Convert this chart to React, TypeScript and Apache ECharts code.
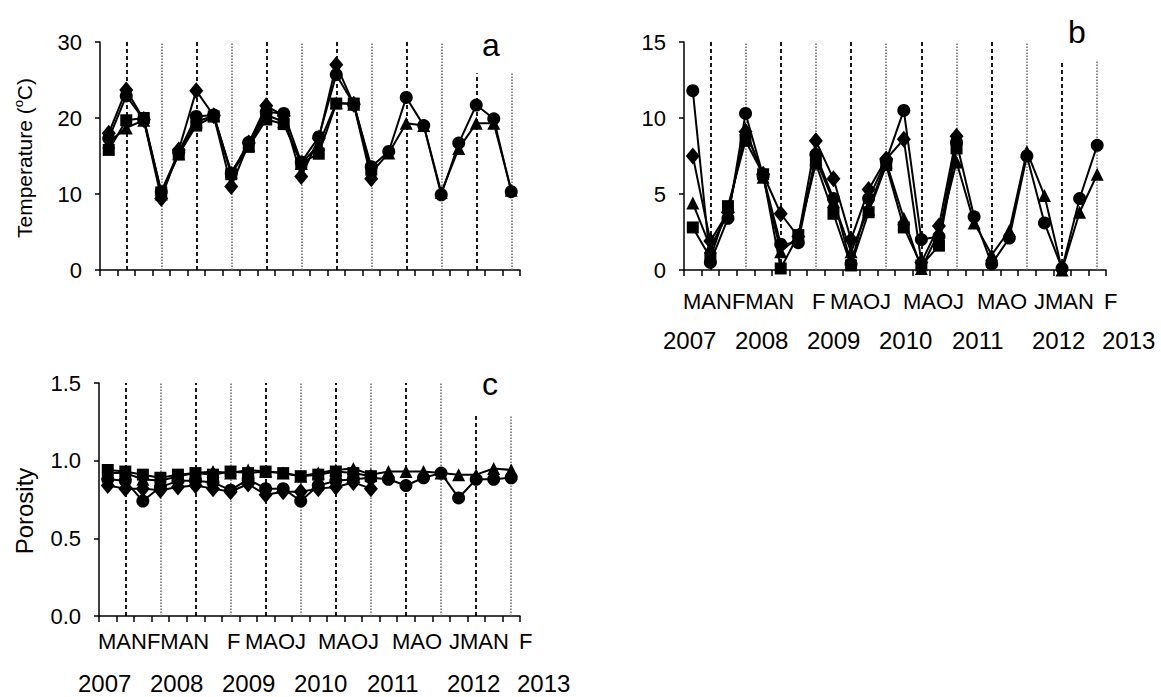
import React, { useEffect, useRef } from 'react';
import * as echarts from 'echarts';

// ---------------- data ----------------
const monthLabels = ['M', 'A', 'N', 'F', 'M', 'A', 'N', 'F', 'M', 'A', 'O', 'J', 'M', 'A', 'O', 'J', 'M', 'A', 'O', 'J', 'M', 'A', 'N', 'F'];
const yearLabels = ['2007', '2008', '2009', '2010', '2011', '2012', '2013'];
const categories = monthLabels.map((m, i) => `${m}${i + 1}`);

// summer (dashed) and winter (dotted) sampling indices
const summerIdx = [1, 5, 9, 13, 17, 21];
const winterIdx = [3, 7, 11, 15, 19, 23];

// a: temperature (°C)
const tempDiamond = [18.0, 23.7, 19.8, 9.4, 15.8, 23.6, 20.3, 11.0, 16.7, 21.6, 20.3, 12.3, 17.3, 27.0, 21.8, 12.0];
const tempSquare = [15.8, 19.7, 20.0, 10.2, 15.2, 19.0, 20.2, 12.6, 16.2, 19.8, 19.2, 14.1, 15.3, 21.9, 21.9, 13.2];
const tempTriangle = [16.8, 18.7, 19.7, 10.0, 15.3, 19.5, 20.3, 12.9, 16.4, 20.4, 19.5, 14.0, 16.5, 22.0, 21.8, 12.8, 15.4, 19.3, 19.0, 10.2, 16.0, 19.3, 19.3, 10.5];
const tempCircle = [17.3, 22.9, 19.8, 10.3, 15.5, 20.2, 20.4, 12.7, 16.8, 20.8, 20.6, 14.2, 17.5, 25.7, 21.8, 13.6, 15.6, 22.7, 19.0, 9.9, 16.7, 21.7, 19.9, 10.3];

// b
const bDiamond = [7.5, 1.9, 3.8, 9.1, 6.3, 3.7, 2.2, 8.5, 6.0, 2.0, 5.3, 7.3, 8.6, 0.5, 2.9, 8.8];
const bSquare = [2.8, 0.8, 4.2, 8.5, 6.3, 0.1, 2.3, 7.0, 3.7, 0.3, 3.8, 6.9, 2.8, 0.3, 1.6, 8.0];
const bTriangle = [4.4, 1.5, 3.7, 9.3, 6.1, 1.2, 2.2, 7.3, 4.5, 1.2, 4.0, 7.1, 3.4, 0.1, 2.5, 7.1, 3.1, 1.0, 2.6, 7.8, 4.9, 0.0, 3.8, 6.3];
const bCircle = [11.8, 0.5, 3.4, 10.3, 6.2, 1.7, 1.8, 7.6, 4.7, 0.4, 4.7, 7.2, 10.5, 2.0, 2.2, 8.4, 3.5, 0.4, 2.1, 7.5, 3.1, 0.1, 4.7, 8.2];

// c: porosity
const porDiamond = [0.84, 0.82, 0.82, 0.81, 0.83, 0.84, 0.82, 0.80, 0.85, 0.78, 0.80, 0.80, 0.82, 0.83, 0.86, 0.82];
const porSquare = [0.94, 0.93, 0.91, 0.89, 0.91, 0.92, 0.91, 0.93, 0.92, 0.93, 0.92, 0.90, 0.91, 0.93, 0.92, 0.90];
const porTriangle = [0.92, 0.92, 0.88, 0.87, 0.90, 0.92, 0.93, 0.92, 0.94, 0.93, 0.92, 0.90, 0.92, 0.94, 0.95, 0.91, 0.93, 0.93, 0.93, 0.92, 0.91, 0.91, 0.95, 0.94];
const porCircle = [0.88, 0.87, 0.74, 0.83, 0.87, 0.87, 0.86, 0.81, 0.88, 0.82, 0.82, 0.74, 0.84, 0.87, 0.88, 0.89, 0.88, 0.84, 0.89, 0.92, 0.76, 0.88, 0.88, 0.89];

// ---------------- layout ----------------
const FONT = 'Arial, "Liberation Sans", sans-serif';

const panels = [
  { name: 'a', grid: { left: 100, top: 42, width: 420, height: 228 }, max: 30, interval: 10, dec: 0, lastTop: 25.9,
    data: [tempSquare, tempDiamond, tempTriangle, tempCircle] },
  { name: 'b', grid: { left: 684, top: 42, width: 422, height: 228 }, max: 15, interval: 5, dec: 0, lastTop: 13.8,
    data: [bSquare, bDiamond, bTriangle, bCircle] },
  { name: 'c', grid: { left: 99, top: 383, width: 421, height: 233 }, max: 1.5, interval: 0.5, dec: 1, lastTop: 1.29,
    data: [porSquare, porDiamond, porTriangle, porCircle] },
];

const symbols: any[] = [
  { symbol: 'rect', size: 12 },
  { symbol: 'diamond', size: [14, 17] },
  { symbol: 'triangle', size: 13 },
  { symbol: 'circle', size: 13 },
];

// letter groups: [start, end, x offset from axis start]
const letterGroups = [[0, 7, -1], [7, 8, 128], [8, 12, 146], [12, 16, 219], [16, 19, 293], [19, 23, 350], [23, 24, 420]];
const yearOffsets = [-21, 51, 123, 195, 268, 348, 418];

const dashedStyle = { type: [4, 3], color: '#000', width: 1.8 };
const dottedStyle = { type: [1.5, 1.5], color: '#666', width: 1.5 };

function buildMarkLines(lastTop: number) {
  const items: any[] = [];
  const add = (idxs: number[], style: any) => {
    idxs.forEach((idx, k) => {
      if (k === idxs.length - 1) {
        items.push([{ coord: [idx, 0], lineStyle: style }, { coord: [idx, lastTop] }]);
      } else {
        items.push({ xAxis: idx, lineStyle: style });
      }
    });
  };
  add(summerIdx, dashedStyle);
  add(winterIdx, dottedStyle);
  return items;
}

export default function App() {
  const ref = useRef<HTMLDivElement>(null);
  useEffect(() => {
    document.body.style.margin = '0';
    if (!ref.current) return;
    const chart = echarts.init(ref.current, null, { renderer: 'svg' });

    const grid: any[] = [];
    const xAxis: any[] = [];
    const yAxis: any[] = [];
    const series: any[] = [];

    panels.forEach((p, k) => {
      grid.push({ ...p.grid, containLabel: false, outerBoundsMode: 'none' });
      xAxis.push({
        type: 'category', gridIndex: k, data: categories, boundaryGap: true,
        axisLine: { lineStyle: { color: '#000', width: 1.5 } },
        axisTick: { show: true, interval: 0, length: 6, lineStyle: { color: '#000', width: 1.5 } },
        axisLabel: { show: false }, splitLine: { show: false },
      });
      yAxis.push({
        type: 'value', gridIndex: k, min: 0, max: p.max, interval: p.interval,
        axisLine: { show: true, lineStyle: { color: '#000', width: 1.5 } },
        axisTick: { show: true, length: 5, lineStyle: { color: '#000', width: 1.5 } },
        axisLabel: { margin: 18, fontSize: 22, color: '#000', fontFamily: FONT,
          formatter: (v: number) => v.toFixed(p.dec) },
        splitLine: { show: false },
      });
      p.data.forEach((d, si) => {
        const s: any = {
          type: 'line', xAxisIndex: k, yAxisIndex: k, data: d,
          symbol: symbols[si].symbol, symbolSize: symbols[si].size, showAllSymbol: true,
          lineStyle: { color: '#000', width: 2 }, itemStyle: { color: '#000' },
          silent: true, z: 3 + si,
        };
        if (si === 2) {
          s.markLine = { silent: true, symbol: ['none', 'none'], label: { show: false }, z: 1,
            data: buildMarkLines(p.lastTop) };
        }
        series.push(s);
      });
    });

    const graphic: any[] = [];
    // axis titles
    graphic.push({
      type: 'text', x: 24, y: 158, rotation: Math.PI / 2,
      style: {
        text: '{n|Temperature (}{s|o}{n|C)}', align: 'center', verticalAlign: 'middle',
        fill: '#000', font: `21px ${FONT}`,
        rich: {
          n: { fontSize: 21, fontFamily: FONT, fill: '#000', lineHeight: 24 },
          s: { fontSize: 13, fontFamily: FONT, fill: '#000', verticalAlign: 'top', lineHeight: 24 },
        },
      },
    });
    graphic.push({
      type: 'text', x: 24, y: 511, rotation: Math.PI / 2,
      style: { text: 'Porosity', align: 'center', verticalAlign: 'middle', fill: '#000', font: `24px ${FONT}` },
    });
    // panel letters
    const letterPos = [[491, 45], [1077, 32], [490, 384]];
    panels.forEach((p, k) => {
      graphic.push({
        type: 'text', x: letterPos[k][0], y: letterPos[k][1],
        style: { text: p.name, align: 'center', verticalAlign: 'middle', fill: '#000', font: `32px ${FONT}` },
      });
    });
    // month letters and years for b and c
    const rows = [
      { left: panels[1].grid.left, monthY: 301, yearY: 340 },
      { left: panels[2].grid.left, monthY: 641.5, yearY: 683.5 },
    ];
    rows.forEach((r) => {
      letterGroups.forEach(([s, e, off]) => {
        graphic.push({
          type: 'text', x: r.left + off, y: r.monthY,
          style: { text: monthLabels.slice(s, e).join(''), align: 'left', verticalAlign: 'middle',
            fill: '#000', font: `22px ${FONT}` },
        });
      });
      yearLabels.forEach((yl, i) => {
        graphic.push({
          type: 'text', x: r.left + yearOffsets[i], y: r.yearY,
          style: { text: yl, align: 'left', verticalAlign: 'middle', fill: '#000', font: `24px ${FONT}` },
        });
      });
    });

    chart.setOption({
      animation: false,
      backgroundColor: '#fff',
      grid, xAxis, yAxis, series, graphic,
    });
    return () => chart.dispose();
  }, []);

  return <div ref={ref} style={{ position: 'absolute', left: 0, top: 0, width: 1161, height: 697 }} />;
}
